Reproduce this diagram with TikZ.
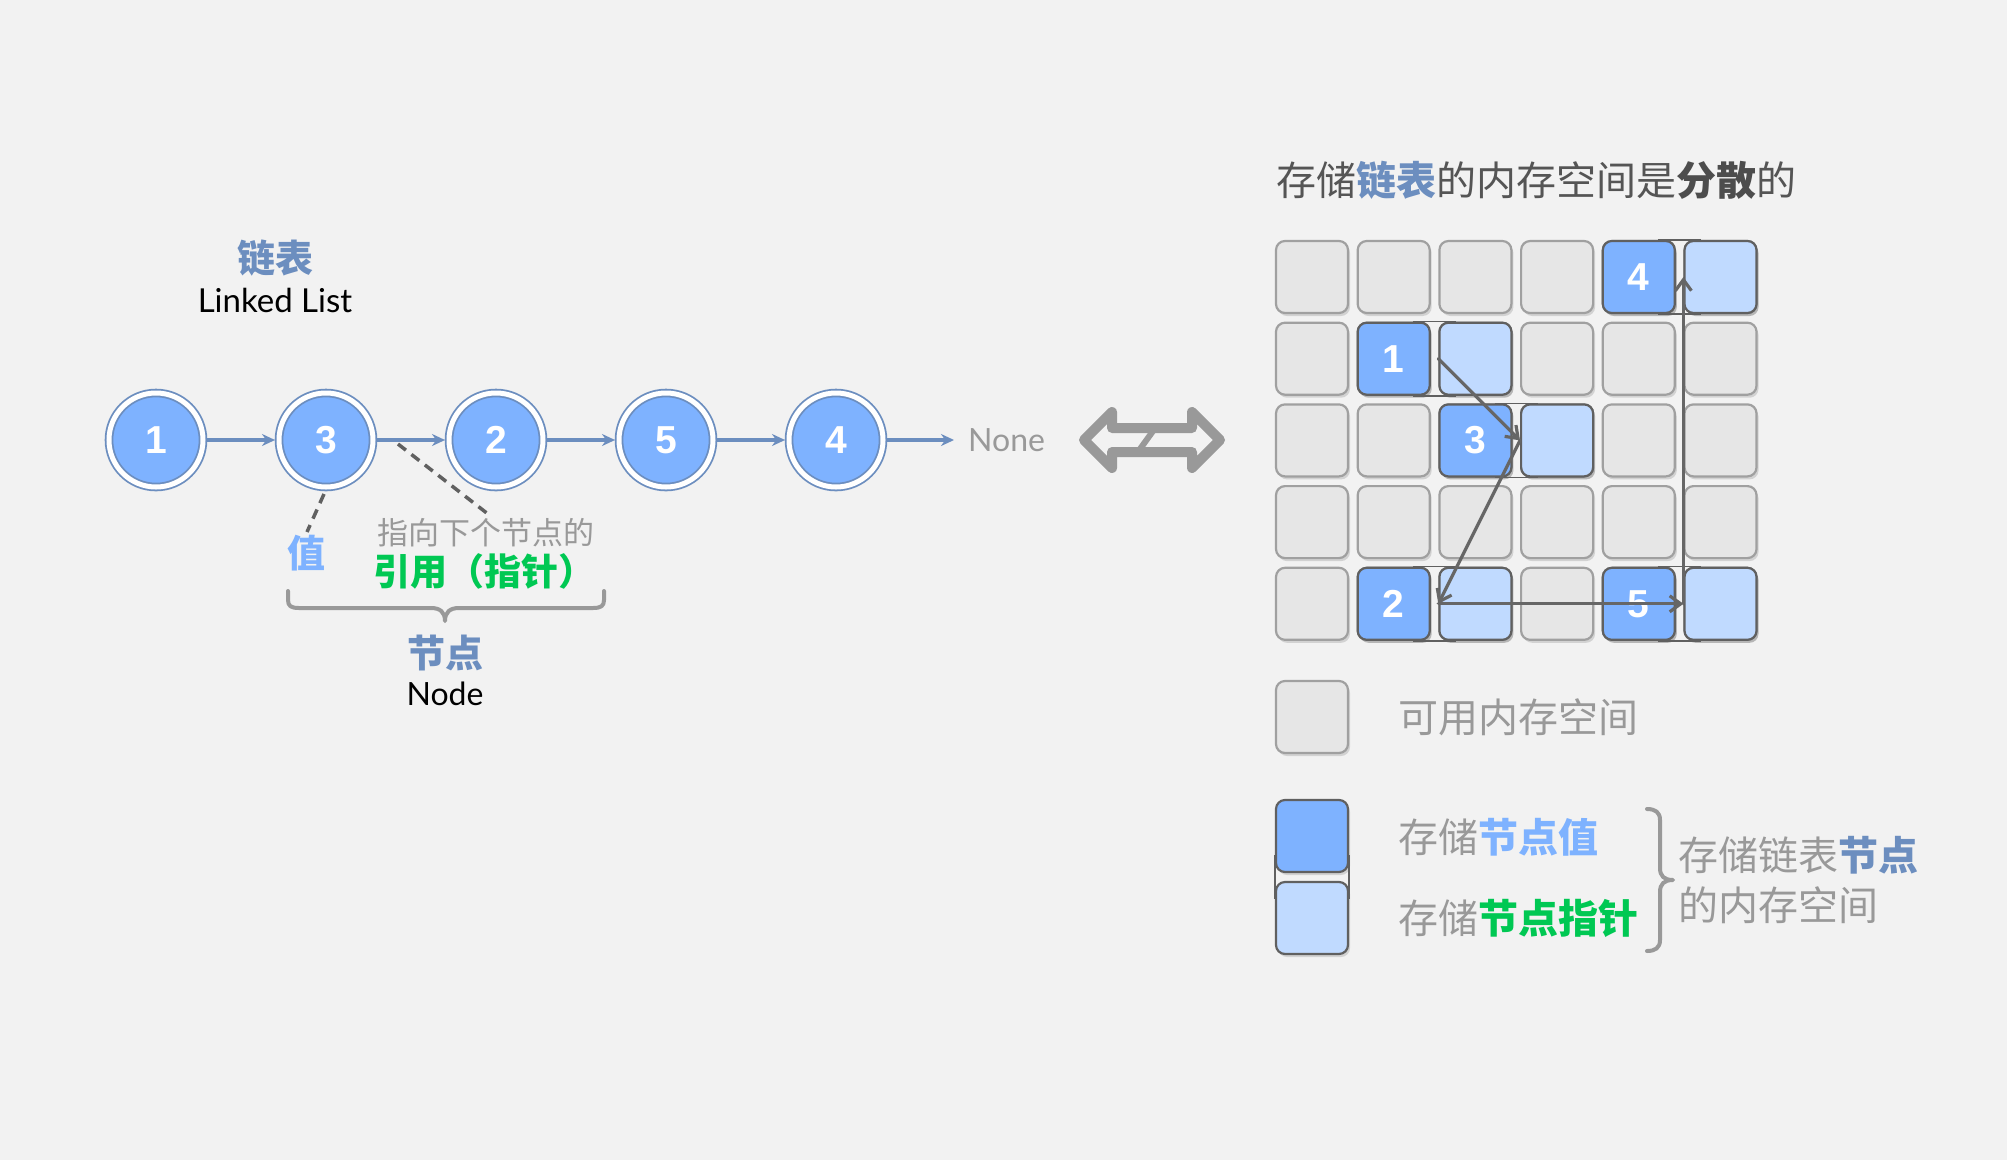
\documentclass[tikz,border=0pt]{standalone}
\usepackage{fontspec}
\setmainfont{Liberation Sans}
\newfontfamily\cjk{Noto Sans CJK SC}
\newfontfamily\hand{Lato}
\usetikzlibrary{arrows.meta,shadows,calc}
\definecolor{bg}{HTML}{F2F2F2}
\definecolor{edgeblue}{HTML}{6C8EBF}
\definecolor{valblue}{HTML}{7EB2FF}
\definecolor{ptrblue}{HTML}{C0DAFF}
\definecolor{cellgray}{HTML}{E6E6E6}
\definecolor{cellborder}{HTML}{A0A0A0}
\definecolor{darkline}{HTML}{606060}
\definecolor{tgray}{HTML}{999999}
\definecolor{titlegray}{HTML}{555555}
\definecolor{ggreen}{HTML}{00C853}
\definecolor{agray}{HTML}{666666}
\begin{document}
\begin{tikzpicture}[x=1pt,y=-1pt,
  shad/.style={drop shadow={shadow xshift=2pt,shadow yshift=-3pt,fill=black,opacity=0.13}},
  llnode/.style={circle,minimum size=94pt,inner sep=0pt,outer sep=4pt,fill=valblue,draw=edgeblue,
    line width=1.8pt,double=white,double distance=5pt,shad,text=white,
    font=\fontsize{39}{41}\selectfont\bfseries},
  link/.style={draw=edgeblue,line width=4pt,-{Stealth[length=13pt,width=12pt]}},
  cell/.style={rectangle,rounded corners=9pt,minimum size=72pt,inner sep=0pt,line width=2.2pt,shad},
  emptycell/.style={cell,fill=cellgray,draw=cellborder},
  valcell/.style={cell,fill=valblue,draw=darkline,text=white,font=\fontsize{39}{41}\selectfont\bfseries},
  ptrcell/.style={cell,fill=ptrblue,draw=darkline},
  pairline/.style={draw=darkline,line width=1.5pt},
  garrow/.style={draw=agray,line width=3.2pt,line cap=round,-{Straight Barb[length=11pt,width=16pt,line width=3.2pt]}},
  cjktext/.style={inner sep=0pt,font=\cjk\fontsize{40}{44}\selectfont},
  brace/.style={draw=tgray,line width=4pt,line cap=round,line join=round},
  dashline/.style={draw=darkline,line width=3.5pt,dash pattern=on 10pt off 7pt}
]
\fill[bg] (0,0) rectangle (2007,1160);
\useasboundingbox (0,0) rectangle (2007,1160);

% ---------- left: linked list ----------
\node[inner sep=0pt,font=\cjk\bfseries\fontsize{38}{42}\selectfont,text=edgeblue] (lltitle) at (275,258) {链表};
\node[inner sep=0pt,font=\hand\fontsize{33}{36}\selectfont] (llsub) at (275,300) {Linked List};

\node[llnode] (c1) at (156,440) {1};
\node[llnode] (c3) at (326,440) {3};
\node[llnode] (c2) at (496,440) {2};
\node[llnode] (c5) at (666,440) {5};
\node[llnode] (c4) at (836,440) {4};
\node[inner sep=0pt,anchor=west,font=\hand\fontsize{32}{36}\selectfont,text=tgray] (none) at (968,440) {None};

\draw[link] (c1) -- (c3);
\draw[link] (c3) -- (c2);
\draw[link] (c2) -- (c5);
\draw[link] (c5) -- (c4);
\draw[link] (c4.east) -- ([xshift=-14pt]none.west);

\node[cjktext,font=\cjk\bfseries\fontsize{38}{42}\selectfont,text=valblue] (val) at (306,553) {值};
\node[cjktext,font=\cjk\fontsize{31}{34}\selectfont,text=tgray] (ptrdesc) at (486,533) {指向下个节点的};
\node[cjktext,font=\cjk\bfseries\fontsize{37}{40}\selectfont,text=ggreen] (ptrname) at (484,571) {引用（指针）};

\coordinate (d1a) at (324,494);
\coordinate (d1b) at (307,532);
\coordinate (d2a) at (398,444);
\coordinate (d2b) at (488,514);
\draw[dashline] (d1a) -- (d1b);
\draw[dashline] (d2a) -- (d2b);

\draw[brace] (288,591) -- (288,600) .. controls (288,606) and (291,608) .. (299,608) -- (431,608)
  .. controls (440,608) and (445,612) .. (445,621)
  .. controls (445,612) and (450,608) .. (459,608) -- (593,608)
  .. controls (601,608) and (604,606) .. (604,600) -- (604,591);

\node[inner sep=0pt,font=\cjk\bfseries\fontsize{38}{42}\selectfont,text=edgeblue] (nodetitle) at (445,653) {节点};
\node[inner sep=0pt,font=\hand\fontsize{32}{36}\selectfont] (nodesub) at (445,694) {Node};

% ---------- double arrow ----------
\draw[draw=tgray,fill=bg,line width=10pt,line join=round]
  (1084,440) -- (1112,412) -- (1112,428) -- (1192,428) -- (1192,412) -- (1220,440)
  -- (1192,468) -- (1192,452) -- (1112,452) -- (1112,468) -- cycle;
\draw[draw=tgray,line width=6pt] (1140,449) -- (1153,431);

% ---------- right: memory ----------
\node[cjktext,anchor=west,text=titlegray] (title) at (1276,180)
  {存储{\bfseries\color{edgeblue}链表}的内存空间是{\bfseries\color{darkline!80!black}分散}的};

\foreach \r in {0,...,4}{
  \foreach \c in {0,...,5}{
    \node[emptycell] (g\r\c) at ({1312+81.7*\c},{277+81.7*\r}) {};
  }
}
\node[valcell] (v4) at ({1312+81.7*4},{277+81.7*0}) {4};
\node[ptrcell] (p4) at ({1312+81.7*5},{277+81.7*0}) {};
\node[valcell] (v1) at ({1312+81.7*1},{277+81.7*1}) {1};
\node[ptrcell] (p1) at ({1312+81.7*2},{277+81.7*1}) {};
\node[valcell] (v3) at ({1312+81.7*2},{277+81.7*2}) {3};
\node[ptrcell] (p3) at ({1312+81.7*3},{277+81.7*2}) {};
\node[valcell] (v2) at ({1312+81.7*1},{277+81.7*4}) {2};
\node[ptrcell] (p2) at ({1312+81.7*2},{277+81.7*4}) {};
\node[valcell] (v5) at ({1312+81.7*4},{277+81.7*4}) {5};
\node[ptrcell] (p5) at ({1312+81.7*5},{277+81.7*4}) {};

\foreach \k in {4,1,3,2,5}{
  \draw[pairline] ([xshift=-18pt]v\k.north east) -- ([xshift=18pt]p\k.north west);
  \draw[pairline] ([xshift=-18pt]v\k.south east) -- ([xshift=18pt]p\k.south west);
}

\draw[garrow] (p1.west) -- (p3.west);
\draw[garrow] (p3.west) -- (p2.west);
\draw[garrow] (p2.west) -- (p5.west);
\draw[garrow] (p5.west) -- (p4.west);

% ---------- legend ----------
\node[emptycell] (lg) at (1312,717) {};
\node[cjktext,anchor=west,text=tgray] (lgtext) at (1398,717) {可用内存空间};

\node[valcell] (lv) at (1312,836) {};
\node[ptrcell] (lp) at (1312,918) {};
\draw[pairline] ([yshift=18pt]lv.south west) -- ([yshift=-18pt]lp.north west);
\draw[pairline] ([yshift=18pt]lv.south east) -- ([yshift=-18pt]lp.north east);
\node[cjktext,anchor=west,text=tgray] (lvtext) at (1398,837) {存储{\bfseries\color{valblue}节点值}};
\node[cjktext,anchor=west,text=tgray] (lptext) at (1398,918) {存储{\bfseries\color{ggreen}节点指针}};

\draw[brace] (1647,809) .. controls (1655,809) and (1660,812) .. (1660,820) -- (1660,868)
  .. controls (1660,876) and (1664,880) .. (1673,880)
  .. controls (1664,880) and (1660,884) .. (1660,892) -- (1660,940)
  .. controls (1660,948) and (1655,951) .. (1647,951);

\node[cjktext,anchor=west,text=tgray] (grp1) at (1678,855) {存储链表{\bfseries\color{edgeblue}节点}};
\node[cjktext,anchor=west,text=tgray] (grp2) at (1678,905) {的内存空间};
\end{tikzpicture}
\end{document}
